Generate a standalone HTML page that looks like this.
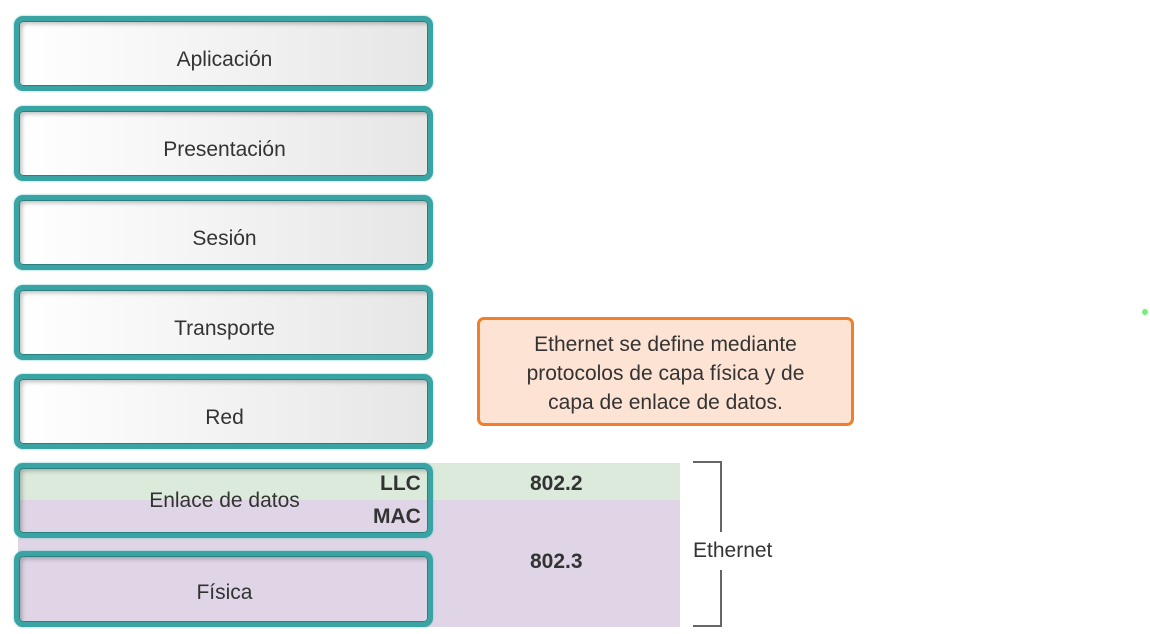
<!DOCTYPE html>
<html><head><meta charset="utf-8"><style>
body{margin:0;width:1150px;height:634px;background:#fff;position:relative;overflow:hidden;font-family:"Liberation Sans",sans-serif;color:#333}
.a{position:absolute}
.box{position:absolute;left:14px;width:419px;border:5px solid #3aa3a3;border-radius:9px;box-shadow:inset 0 0 0 1px #2a8080,inset 3px 3px 4px rgba(0,0,0,.25),0 0 2px #7cc;display:flex;align-items:center;justify-content:center;font-size:21px;background:linear-gradient(90deg,#fff,#e6e6e6);box-sizing:border-box;height:75px;padding-top:12px;padding-left:2px}
.t{background:transparent}
.b{font-weight:bold;font-size:21px;position:absolute}
</style></head><body>
<div class="a" style="left:18px;top:463px;width:662px;height:37px;background:#dbeadb"></div>
<div class="a" style="left:18px;top:500px;width:662px;height:127px;background:#dfd5e6"></div>
<div class="box" style="top:16px">Aplicación</div>
<div class="box" style="top:106px">Presentación</div>
<div class="box" style="top:195px">Sesión</div>
<div class="box" style="top:285px">Transporte</div>
<div class="box" style="top:374px">Red</div>
<div class="box t" style="top:463px;padding-top:0px">Enlace de datos</div>
<div class="box t" style="top:551px;height:76px;padding-top:8px">Física</div>
<div class="b" style="left:380px;top:472px">LLC</div>
<div class="b" style="left:373px;top:505px">MAC</div>
<div class="b" style="left:530px;top:472px">802.2</div>
<div class="b" style="left:530px;top:550px">802.3</div>
<div class="a" style="left:693px;top:461px;width:27px;height:69px;border:2px solid #666;border-left:none;border-bottom:none"></div>
<div class="a" style="left:693px;top:570px;width:27px;height:55px;border:2px solid #666;border-left:none;border-top:none"></div>
<div class="a" style="left:693px;top:539px;font-size:21px">Ethernet</div>
<div class="a" style="left:477px;top:317px;width:371px;border:3px solid #f07f2a;border-radius:7px;background:#fde3d3;display:flex;align-items:center;justify-content:center;text-align:center;font-size:21px;line-height:29px;padding-top:4px;box-sizing:content-box;height:99px">Ethernet se define mediante<br>protocolos de capa física y de<br>capa de enlace de datos.</div>
<div class="a" style="left:1142px;top:309px;width:6px;height:6px;border-radius:50%;background:#7e7"></div>
</body></html>
